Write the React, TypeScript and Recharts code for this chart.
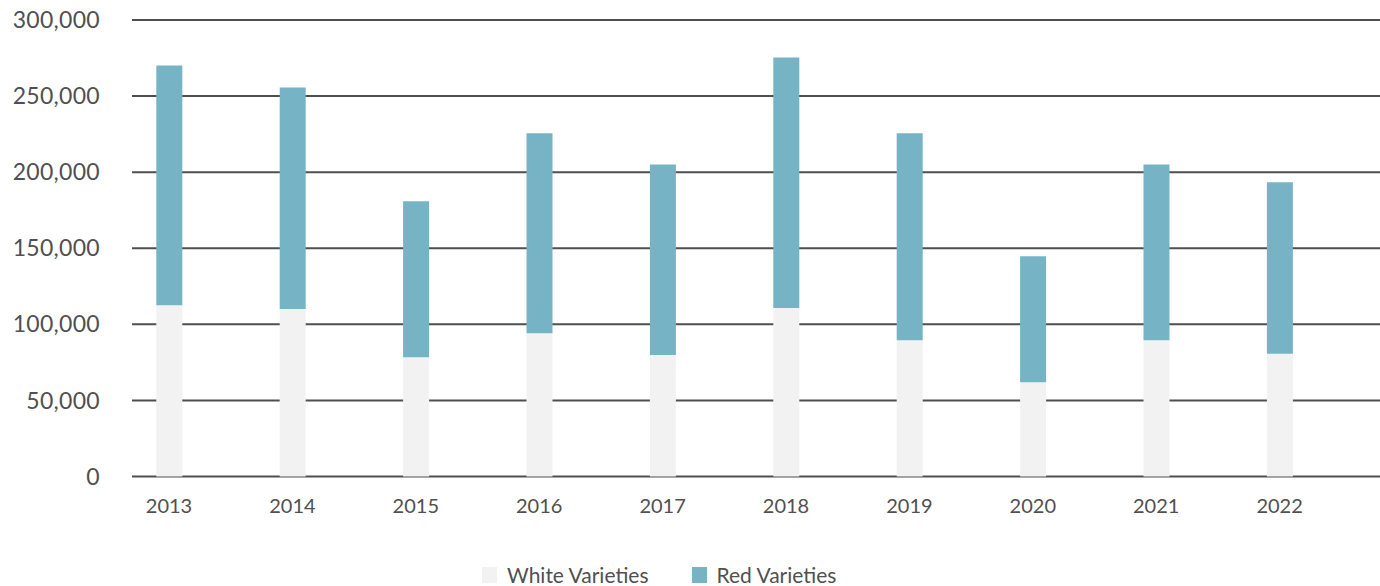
import { BarChart, Bar, XAxis, YAxis, CartesianGrid, Legend } from "recharts";

// values, per vintage year
const years = ["2013", "2014", "2015", "2016", "2017", "2018", "2019", "2020", "2021", "2022"];
const whiteVarieties = [112600, 110000, 78400, 94200, 79800, 110800, 89600, 62000, 89600, 80600];
const redVarieties = [157500, 145700, 102500, 131300, 125300, 164600, 135900, 82800, 115500, 112700];
const yTicks = [0, 50000, 100000, 150000, 200000, 250000, 300000];

const WHITE = "#f2f2f2";
const RED = "#76b3c4";
const TEXT = "#505050";
const FONT = "Lato, 'Open Sans', sans-serif";

const data = years.map((year, i) => ({
  year,
  white: whiteVarieties[i],
  red: redVarieties[i],
}));

const legendItems = [
  { label: "White Varieties", color: WHITE },
  { label: "Red Varieties", color: RED },
];

function LegendContent() {
  return (
    <div style={{ display: "flex", alignItems: "center", paddingTop: 19, fontFamily: FONT }}>
      {legendItems.map((item) => (
        <div key={item.label} style={{ display: "flex", alignItems: "center", marginRight: 43 }}>
          <span style={{ width: 15, height: 16, background: item.color, display: "inline-block", marginRight: 10 }} />
          <span style={{ fontSize: 21, color: TEXT, lineHeight: "20px" }}>{item.label}</span>
        </div>
      ))}
    </div>
  );
}

export default function App() {
  return (
    <div style={{ position: "absolute", left: 0, top: 0, fontFamily: FONT }}>
      <BarChart width={1380} height={586} data={data} margin={{ top: 20, right: 0, left: 0, bottom: 0 }}>
        <CartesianGrid vertical={false} stroke="#4f4f4f" strokeWidth={2} />
        <XAxis
          dataKey="year"
          axisLine={false}
          tickLine={false}
          tickSize={0}
          tickMargin={22}
          height={69.5}
          padding={{ left: -24.7, right: 38.7 }}
          tick={{ fill: TEXT, fontSize: 20, fontFamily: FONT }}
        />
        <YAxis
          width={132}
          domain={[0, 300000]}
          ticks={yTicks}
          axisLine={false}
          tickLine={false}
          tickSize={0}
          tickMargin={32}
          tickFormatter={(v: number) => v.toLocaleString("en-US")}
          tick={{ fill: TEXT, fontSize: 23, fontFamily: FONT, letterSpacing: 0.3 }}
        />
        <Legend
          verticalAlign="bottom"
          height={40}
          wrapperStyle={{ left: 482, bottom: 0 }}
          content={() => <LegendContent />}
        />
        <Bar dataKey="white" name="White Varieties" stackId="a" fill={WHITE} barSize={26} isAnimationActive={false} />
        <Bar dataKey="red" name="Red Varieties" stackId="a" fill={RED} barSize={26} isAnimationActive={false} />
      </BarChart>
    </div>
  );
}
